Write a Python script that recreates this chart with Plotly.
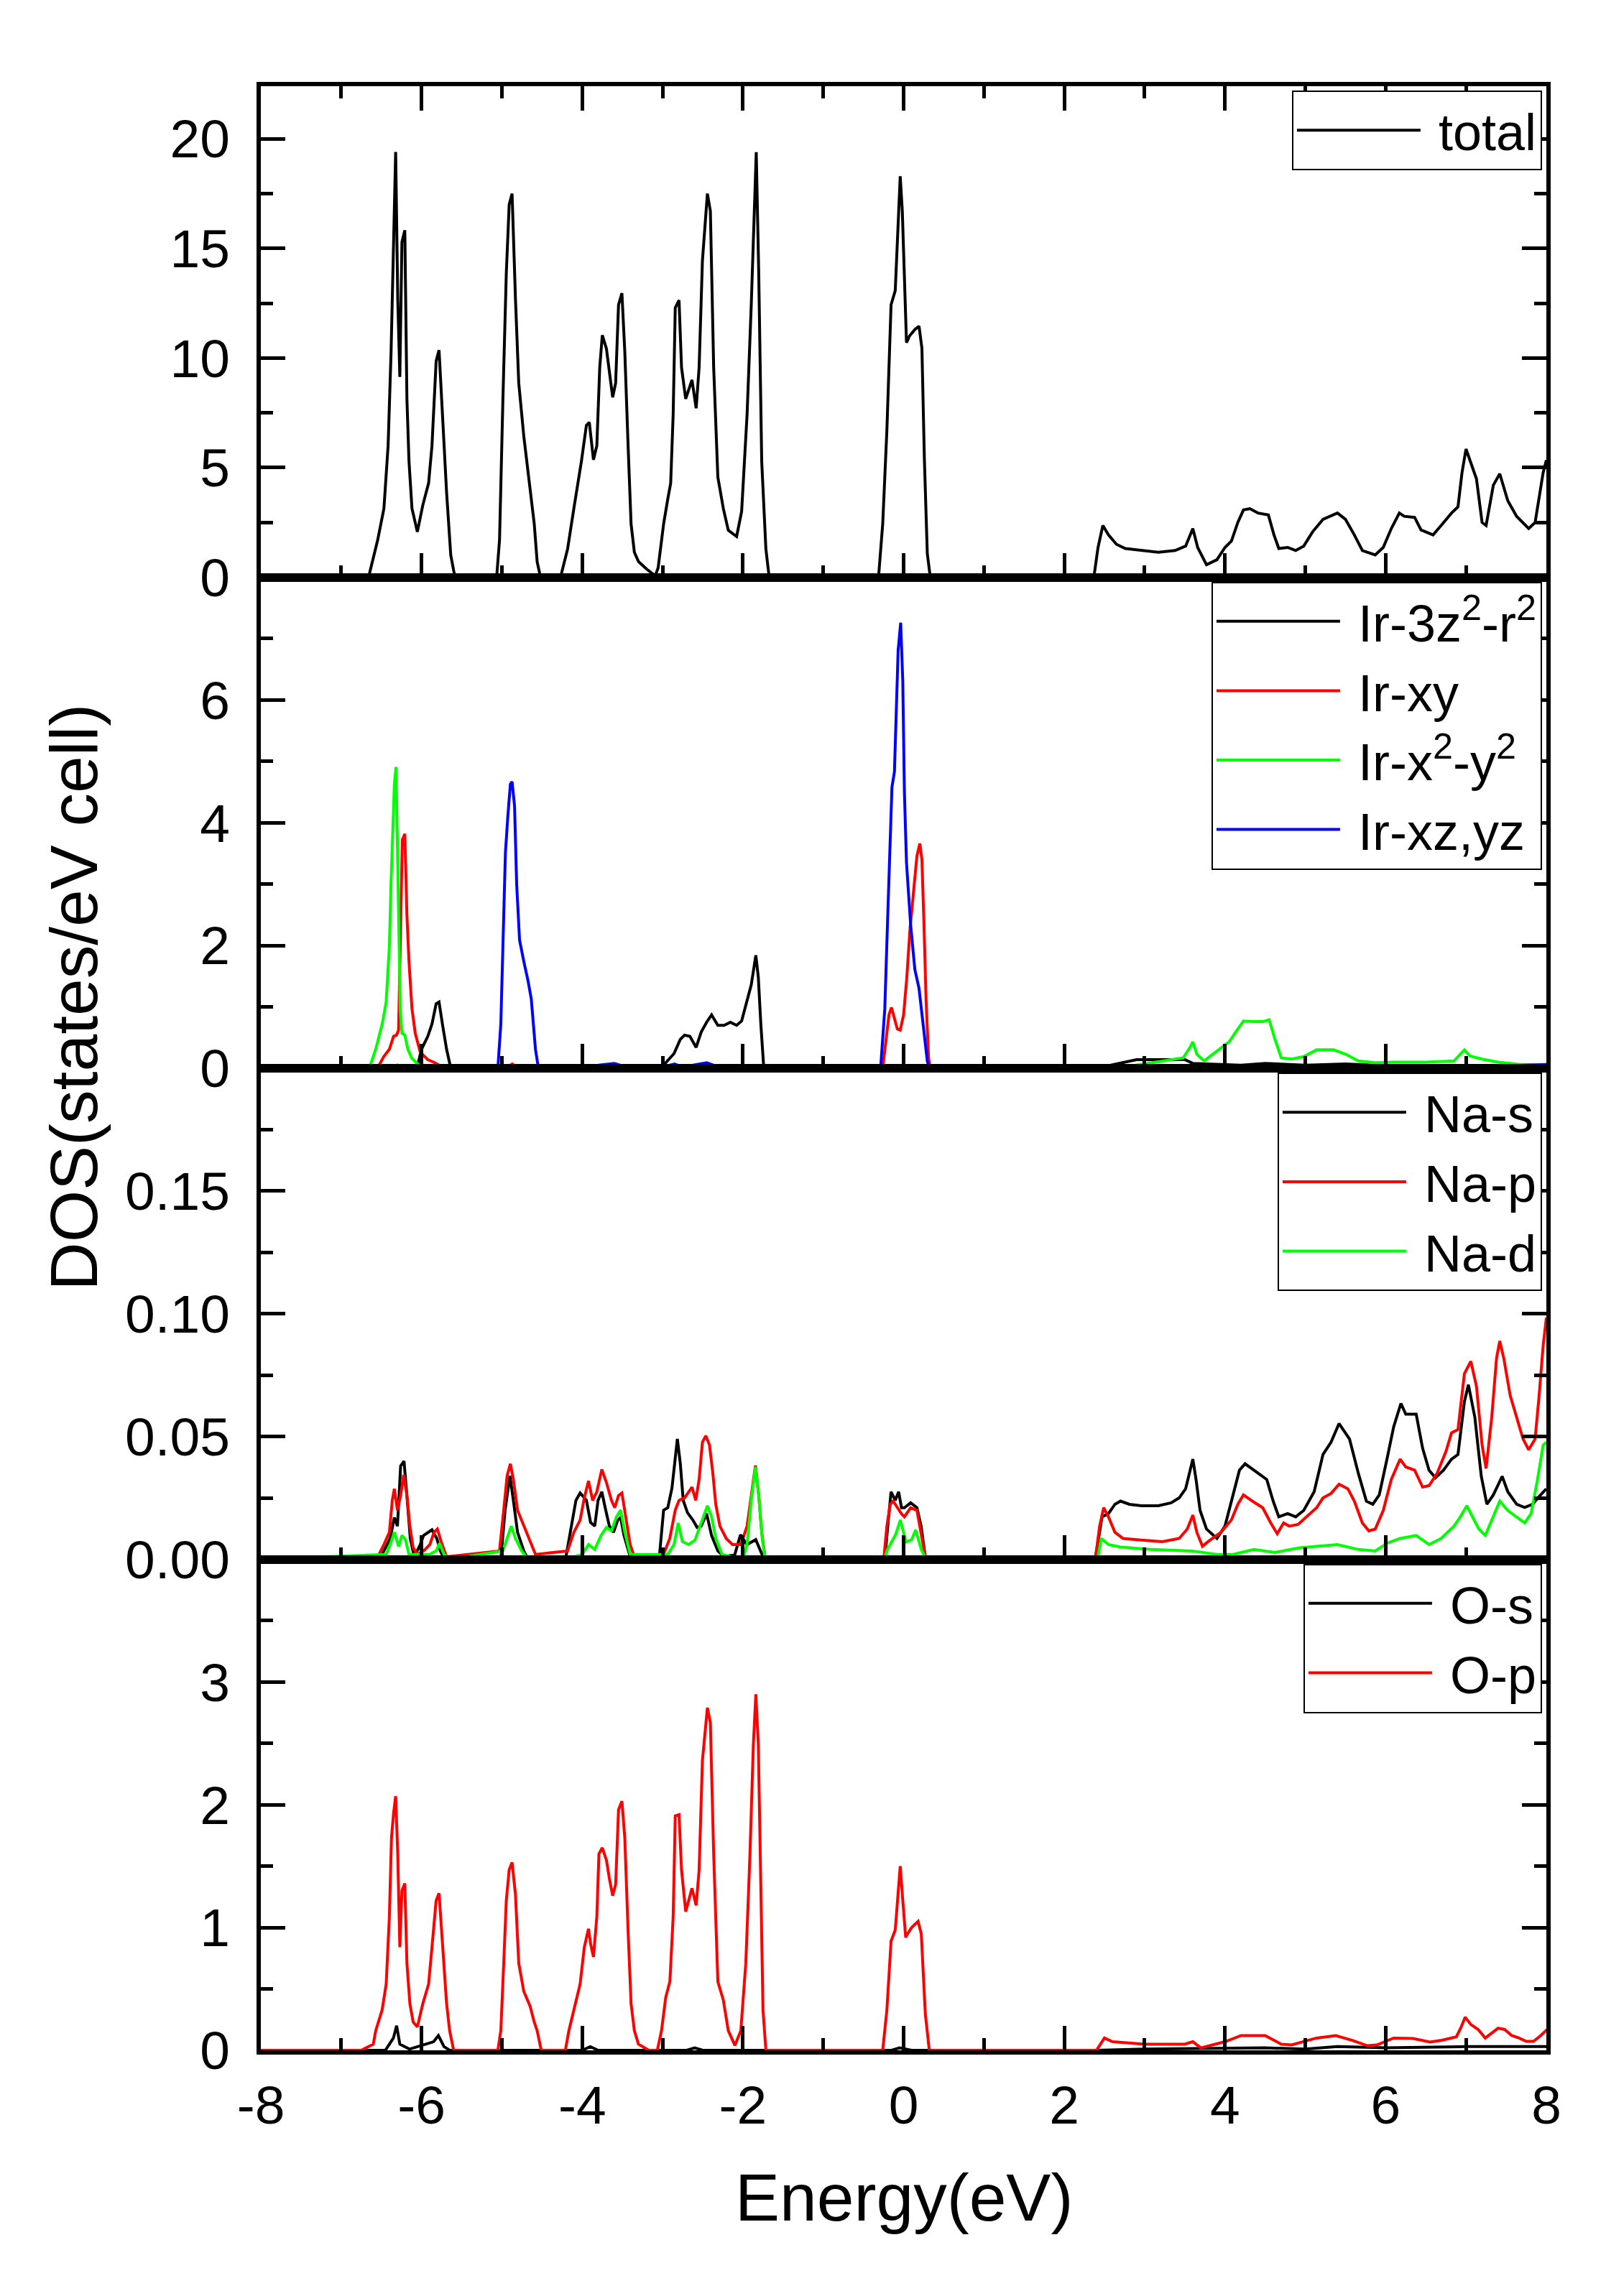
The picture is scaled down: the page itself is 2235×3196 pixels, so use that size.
import plotly.graph_objects as go
from plotly.subplots import make_subplots

# ----------------------------------------------------------------------
#  DATA  (energy in eV, DOS in states/eV cell)
# ----------------------------------------------------------------------
total = [(-8, 0), (-6.70, 0), (-6.65, 0.14), (-6.545, 1.71), (-6.468, 3.14), (-6.416, 6.0), (-6.379, 10.29),
         (-6.358, 13.86), (-6.322, 19.4), (-6.296, 12.71), (-6.27, 9.14), (-6.244, 15.29), (-6.208, 15.83),
         (-6.182, 8.14), (-6.156, 5.29), (-6.119, 3.14), (-6.052, 2.07), (-5.984, 3.29), (-5.912, 4.29),
         (-5.87, 6.0), (-5.818, 9.86), (-5.782, 10.36), (-5.74, 7.43), (-5.688, 3.86), (-5.636, 1.0), (-5.584, 0),
         (-5.065, 0), (-5.029, 1.71), (-4.987, 8.14), (-4.945, 13.86), (-4.909, 17.0), (-4.873, 17.5),
         (-4.831, 12.71), (-4.79, 8.86), (-4.727, 6.43), (-4.649, 4.0), (-4.597, 2.43), (-4.561, 0.71),
         (-4.519, 0), (-4.27, 0), (-4.182, 1.29), (-4.104, 3.14), (-4.01, 5.29), (-3.948, 6.93), (-3.912, 7.07),
         (-3.86, 5.36), (-3.818, 6.0), (-3.782, 9.57), (-3.75, 11.04), (-3.699, 10.43), (-3.662, 9.29),
         (-3.621, 8.21), (-3.584, 8.86), (-3.548, 12.43), (-3.506, 12.96), (-3.47, 10.29), (-3.429, 6.0),
         (-3.392, 2.43), (-3.351, 1.14), (-3.299, 0.71), (-3.195, 0.36), (-3.091, 0.07), (-3.055, 0.43),
         (-2.987, 2.43), (-2.935, 3.57), (-2.899, 4.29), (-2.868, 7.43), (-2.842, 12.29), (-2.795, 12.64),
         (-2.764, 9.57), (-2.712, 8.14), (-2.634, 9.0), (-2.582, 7.71), (-2.545, 9.57), (-2.504, 14.43),
         (-2.442, 17.5), (-2.405, 16.71), (-2.364, 9.57), (-2.312, 4.57), (-2.244, 3.14), (-2.182, 2.14),
         (-2.078, 1.86), (-2.016, 3.0), (-1.948, 7.43), (-1.896, 12.43), (-1.86, 16.71), (-1.834, 19.39),
         (-1.803, 13.86), (-1.766, 5.29), (-1.714, 1.29), (-1.673, 0),
         (-0.312, 0), (-0.26, 2.43), (-0.208, 6.71), (-0.182, 9.57), (-0.156, 12.43), (-0.104, 13.07),
         (-0.078, 15.29), (-0.042, 18.29), (-0.016, 16.7), (0.01, 13.9), (0.036, 10.7), (0.073, 11.0),
         (0.14, 11.3), (0.192, 11.45), (0.228, 10.45), (0.259, 5.34), (0.295, 1.08), (0.332, 0),
         (2.368, 0), (2.42, 1.36), (2.48, 2.36), (2.55, 1.93), (2.65, 1.5), (2.76, 1.31), (2.96, 1.22),
         (3.17, 1.14), (3.38, 1.22), (3.51, 1.42), (3.6, 2.22), (3.66, 1.36), (3.77, 0.57), (3.9, 0.8),
         (4.0, 1.36), (4.08, 1.65), (4.16, 2.5), (4.23, 3.07), (4.31, 3.13), (4.41, 2.93), (4.54, 2.84),
         (4.61, 1.93), (4.67, 1.31), (4.78, 1.36), (4.88, 1.22), (4.98, 1.42), (5.09, 2.07), (5.22, 2.64),
         (5.4, 2.93), (5.5, 2.64), (5.61, 1.93), (5.71, 1.22), (5.87, 1.02), (5.97, 1.36), (6.07, 2.22),
         (6.17, 2.93), (6.23, 2.78), (6.36, 2.73), (6.44, 2.16), (6.59, 1.93), (6.69, 2.36), (6.82, 2.93),
         (6.9, 3.21), (6.95, 4.77), (7.0, 5.85), (7.13, 4.49), (7.2, 2.5), (7.25, 2.36), (7.34, 4.2),
         (7.42, 4.72), (7.52, 3.49), (7.63, 2.78), (7.78, 2.22), (7.86, 2.5), (7.96, 4.77), (8.0, 5.34)]

ir_z2 = [(-8, 0), (-6.45, 0), (-6.35, 0.03), (-6.3, 0.05), (-6.25, 0.02), (-6.1, 0.0), (-6.04, 0.09),
         (-6.0, 0.31), (-5.922, 0.52), (-5.87, 0.72), (-5.818, 1.05), (-5.782, 1.08), (-5.74, 0.72),
         (-5.688, 0.31), (-5.636, 0.0), (-4.95, 0), (-4.9, 0.02), (-4.8, 0), (-3.05, 0), (-3.01, 0.04),
         (-2.96, 0.09), (-2.857, 0.24), (-2.78, 0.47), (-2.727, 0.54), (-2.66, 0.52), (-2.582, 0.34),
         (-2.519, 0.59), (-2.452, 0.75), (-2.39, 0.87), (-2.312, 0.7), (-2.234, 0.7), (-2.156, 0.75),
         (-2.078, 0.7), (-2.016, 0.77), (-1.948, 1.13), (-1.896, 1.36), (-1.839, 1.84), (-1.808, 1.48),
         (-1.777, 0.72), (-1.74, 0), (-0.2, 0), (-0.1, 0.03), (0.1, 0.03), (0.3, 0), (2.4, 0), (2.7, 0.08),
         (2.9, 0.14), (3.5, 0.14), (3.6, 0.08), (4.2, 0.05), (4.5, 0.08), (5.0, 0.05), (5.5, 0.07),
         (6.0, 0.04), (8.0, 0.02)]

ir_xy = [(-8, 0), (-6.55, 0), (-6.47, 0.19), (-6.4, 0.31), (-6.348, 0.52), (-6.312, 0.54), (-6.286, 0.62),
         (-6.26, 2.5), (-6.239, 3.72), (-6.208, 3.82), (-6.182, 2.5), (-6.156, 1.74), (-6.119, 0.97),
         (-6.078, 0.57), (-6.016, 0.26), (-5.922, 0.14), (-5.85, 0.1), (-5.75, 0.03), (-5.65, 0), (-4.95, 0),
         (-4.87, 0.07), (-4.8, 0), (-0.26, 0), (-0.218, 0.47), (-0.182, 0.87), (-0.151, 0.99), (-0.114, 0.82),
         (-0.078, 0.64), (-0.042, 0.62), (0.0, 0.87), (0.04, 1.48), (0.078, 2.24), (0.114, 2.74),
         (0.166, 3.46), (0.202, 3.66), (0.228, 3.4), (0.254, 2.33), (0.28, 1.1), (0.311, 0.17), (0.33, 0),
         (7.5, 0), (8, 0.03)]

ir_x2y2 = [(-8, 0), (-6.65, 0), (-6.57, 0.31), (-6.49, 0.72), (-6.44, 1.08), (-6.4, 1.99), (-6.38, 3.0),
           (-6.358, 4.02), (-6.338, 4.63), (-6.317, 4.91), (-6.3, 3.51), (-6.286, 1.99), (-6.265, 0.97),
           (-6.244, 0.57), (-6.208, 0.54), (-6.17, 0.31), (-6.12, 0.16), (-6.03, 0.05), (-5.9, 0.02),
           (-5.1, 0.02), (-4.9, 0.05), (-4.7, 0.02), (-3.7, 0.02), (-3.5, 0.04), (-3.3, 0.01), (-2.8, 0.02),
           (-2.55, 0.05), (-2.4, 0.02), (-0.2, 0.01), (0, 0.04), (0.2, 0.01), (2.65, 0), (3.07, 0.09),
           (3.48, 0.17), (3.56, 0.33), (3.6, 0.43), (3.65, 0.23), (3.74, 0.12), (3.9, 0.28), (4.05, 0.43),
           (4.16, 0.64), (4.23, 0.77), (4.36, 0.76), (4.47, 0.76), (4.55, 0.79), (4.62, 0.48), (4.7, 0.17),
           (4.83, 0.15), (4.98, 0.19), (5.14, 0.3), (5.35, 0.3), (5.5, 0.23), (5.66, 0.12), (5.87, 0.09),
           (6.1, 0.1), (6.5, 0.1), (6.85, 0.12), (6.98, 0.3), (7.05, 0.2), (7.2, 0.15), (7.4, 0.1),
           (7.7, 0.06), (8, 0.05)]

ir_xzyz = [(-8, 0), (-6.4, 0), (-6.32, 0.04), (-6.25, 0.0), (-6.1, 0.04), (-6.0, 0), (-5.05, 0),
           (-5.013, 0.72), (-4.987, 1.99), (-4.956, 3.51), (-4.925, 4.12), (-4.894, 4.63), (-4.873, 4.67),
           (-4.842, 4.27), (-4.816, 3.0), (-4.78, 2.09), (-4.727, 1.74), (-4.675, 1.43), (-4.634, 1.13),
           (-4.608, 0.72), (-4.582, 0.31), (-4.545, 0), (-4.2, 0.02), (-3.8, 0.05), (-3.6, 0.08),
           (-3.45, 0.02), (-3.0, 0.02), (-2.85, 0.07), (-2.75, 0.02), (-2.6, 0.06), (-2.45, 0.09),
           (-2.3, 0.02), (-1.8, 0.0), (-0.286, 0), (-0.234, 0.97), (-0.197, 2.5), (-0.166, 3.77),
           (-0.145, 4.58), (-0.114, 4.83), (-0.094, 5.8), (-0.068, 6.81), (-0.036, 7.26), (-0.01, 6.3),
           (0.01, 4.5), (0.036, 3.35), (0.088, 2.33), (0.14, 1.61), (0.192, 1.3), (0.244, 0.69),
           (0.295, 0.12), (0.32, 0), (7.0, 0.02), (8, 0.06)]

na_s = [(-8, 0), (-6.55, 0), (-6.49, 0.002), (-6.39, 0.0085), (-6.338, 0.017), (-6.3, 0.0135), (-6.26, 0.038),
        (-6.218, 0.040), (-6.182, 0.026), (-6.14, 0.0085), (-6.09, 0.001), (-6.016, 0.006), (-5.974, 0.0097),
        (-5.87, 0.012), (-5.81, 0.0085), (-5.766, 0.0034), (-5.714, 0), (-5.013, 0), (-4.96, 0.02),
        (-4.9, 0.034), (-4.857, 0.024), (-4.805, 0.011), (-4.727, 0.0034), (-4.675, 0), (-4.208, 0),
        (-4.13, 0.0135), (-4.078, 0.024), (-4.026, 0.027), (-3.948, 0.024), (-3.896, 0.015), (-3.844, 0.0135),
        (-3.803, 0.024), (-3.756, 0.0275), (-3.714, 0.021), (-3.662, 0.0135), (-3.61, 0.011), (-3.558, 0.016),
        (-3.522, 0.017), (-3.48, 0.0097), (-3.403, 0.001), (-3.04, 0.001), (-2.987, 0.02), (-2.935, 0.021),
        (-2.883, 0.029), (-2.847, 0.041), (-2.816, 0.049), (-2.779, 0.039), (-2.743, 0.024), (-2.69, 0.019),
        (-2.623, 0.016), (-2.571, 0.013), (-2.519, 0.0135), (-2.452, 0.0186), (-2.39, 0.0097),
        (-2.312, 0.0034), (-2.234, 0.001), (-2.1, 0.002), (-2.03, 0.01), (-1.95, 0.006), (-1.84, 0.008),
        (-1.75, 0.001), (-0.234, 0), (-0.197, 0.0135), (-0.156, 0.0275), (-0.104, 0.024), (-0.062, 0.0275),
        (-0.026, 0.021), (0.01, 0.021), (0.088, 0.023), (0.166, 0.021), (0.218, 0.0135), (0.27, 0.001),
        (2.39, 0.001), (2.47, 0.0173), (2.55, 0.0186), (2.63, 0.0224), (2.7, 0.0237), (2.81, 0.0224),
        (2.96, 0.0218), (3.17, 0.0218), (3.33, 0.023), (3.43, 0.025), (3.51, 0.0287), (3.56, 0.035),
        (3.6, 0.0408), (3.64, 0.0325), (3.69, 0.0199), (3.77, 0.0123), (3.9, 0.0085), (4.0, 0.0135),
        (4.1, 0.0262), (4.18, 0.0363), (4.25, 0.0389), (4.36, 0.0363), (4.52, 0.0325), (4.6, 0.0237),
        (4.67, 0.0173), (4.78, 0.0186), (4.88, 0.0173), (4.98, 0.0199), (5.11, 0.0275), (5.22, 0.0427),
        (5.32, 0.0477), (5.42, 0.0553), (5.55, 0.049), (5.66, 0.035), (5.76, 0.0237), (5.84, 0.0224),
        (5.92, 0.0262), (6.02, 0.0414), (6.1, 0.054), (6.19, 0.0635), (6.25, 0.0591), (6.38, 0.0591),
        (6.46, 0.0452), (6.54, 0.0363), (6.62, 0.0332), (6.72, 0.0363), (6.82, 0.0408), (6.9, 0.0427),
        (6.98, 0.0642), (7.03, 0.0711), (7.11, 0.0578), (7.19, 0.0338), (7.26, 0.0224), (7.34, 0.0262),
        (7.45, 0.0338), (7.52, 0.0275), (7.63, 0.0224), (7.73, 0.0211), (7.83, 0.0224), (7.91, 0.0256),
        (8.0, 0.0287)]

na_p = [(-8, 0), (-6.545, 0.001), (-6.468, 0.006), (-6.4, 0.011), (-6.364, 0.024), (-6.338, 0.0287),
        (-6.3, 0.02), (-6.26, 0.026), (-6.223, 0.0344), (-6.182, 0.026), (-6.145, 0.0135), (-6.104, 0.0047),
        (-6.052, 0.002), (-5.974, 0.0034), (-5.896, 0.006), (-5.844, 0.011), (-5.803, 0.0123), (-5.756, 0.0072),
        (-5.688, 0.001), (-5.03, 0.0034), (-4.977, 0.02), (-4.935, 0.034), (-4.894, 0.0389), (-4.857, 0.0325),
        (-4.805, 0.02), (-4.727, 0.0135), (-4.649, 0.0078), (-4.582, 0.002), (-4.182, 0.0034), (-4.104, 0.011),
        (-4.026, 0.016), (-3.974, 0.025), (-3.922, 0.0319), (-3.87, 0.024), (-3.818, 0.0275), (-3.756, 0.0366),
        (-3.699, 0.0313), (-3.636, 0.024), (-3.595, 0.021), (-3.548, 0.026), (-3.506, 0.027), (-3.455, 0.0173),
        (-3.403, 0.006), (-3.351, 0.001), (-2.987, 0.002), (-2.91, 0.0085), (-2.842, 0.02), (-2.795, 0.024),
        (-2.727, 0.025), (-2.634, 0.0294), (-2.587, 0.024), (-2.545, 0.0325), (-2.504, 0.0477),
        (-2.462, 0.0503), (-2.416, 0.0465), (-2.374, 0.035), (-2.338, 0.0224), (-2.286, 0.0135),
        (-2.208, 0.0085), (-2.13, 0.006), (-2.026, 0.006), (-1.948, 0.0135), (-1.88, 0.03), (-1.844, 0.0382),
        (-1.803, 0.026), (-1.766, 0.011), (-1.725, 0.001), (-0.244, 0.001), (-0.208, 0.0135), (-0.166, 0.0224),
        (-0.13, 0.0237), (-0.078, 0.021), (-0.026, 0.0185), (0.01, 0.0173), (0.088, 0.021), (0.166, 0.0199),
        (0.218, 0.011), (0.27, 0.001), (2.39, 0.001), (2.44, 0.0135), (2.49, 0.021), (2.55, 0.0173),
        (2.63, 0.011), (2.73, 0.0085), (2.96, 0.0078), (3.22, 0.0072), (3.43, 0.0085), (3.53, 0.0123),
        (3.6, 0.018), (3.65, 0.011), (3.72, 0.0053), (3.79, 0.0072), (3.95, 0.011), (4.08, 0.016),
        (4.16, 0.0224), (4.23, 0.0262), (4.34, 0.0237), (4.47, 0.021), (4.57, 0.0148), (4.65, 0.0104),
        (4.73, 0.0148), (4.8, 0.0135), (4.91, 0.0142), (5.01, 0.0173), (5.14, 0.021), (5.22, 0.025),
        (5.32, 0.0268), (5.42, 0.0306), (5.53, 0.0287), (5.61, 0.0237), (5.71, 0.0148), (5.79, 0.0116),
        (5.87, 0.0123), (5.97, 0.0199), (6.07, 0.0325), (6.18, 0.0408), (6.25, 0.0376), (6.36, 0.0363),
        (6.46, 0.0294), (6.54, 0.03), (6.64, 0.035), (6.75, 0.0439), (6.82, 0.0515), (6.9, 0.0528),
        (6.98, 0.0756), (7.06, 0.0806), (7.13, 0.0705), (7.2, 0.0465), (7.25, 0.037), (7.32, 0.0578),
        (7.38, 0.0819), (7.42, 0.0889), (7.47, 0.0819), (7.55, 0.0667), (7.63, 0.0578), (7.71, 0.049),
        (7.78, 0.0446), (7.86, 0.049), (7.91, 0.0667), (7.96, 0.087), (8.0, 0.0984)]

na_d = [(-8, 0), (-6.44, 0.002), (-6.39, 0.006), (-6.338, 0.011), (-6.286, 0.0053), (-6.244, 0.0097),
        (-6.2, 0.008), (-6.156, 0.002), (-5.9, 0.002), (-5.818, 0.0034), (-5.776, 0.0065), (-5.72, 0.002),
        (-5.65, 0), (-4.987, 0.0034), (-4.935, 0.0085), (-4.883, 0.0135), (-4.831, 0.0085), (-4.753, 0.0034),
        (-4.675, 0), (-4.104, 0.001), (-4.0, 0.002), (-3.922, 0.006), (-3.844, 0.004), (-3.766, 0.0097),
        (-3.699, 0.013), (-3.636, 0.0116), (-3.574, 0.0173), (-3.522, 0.02), (-3.47, 0.011), (-3.403, 0.002),
        (-2.935, 0.002), (-2.857, 0.006), (-2.805, 0.0148), (-2.753, 0.0072), (-2.675, 0.006), (-2.597, 0.0078),
        (-2.519, 0.0148), (-2.442, 0.0218), (-2.39, 0.0173), (-2.338, 0.0085), (-2.26, 0.002), (-2.0, 0.0),
        (-1.948, 0.006), (-1.896, 0.024), (-1.844, 0.0376), (-1.803, 0.026), (-1.756, 0.0072), (-1.72, 0),
        (-0.24, 0), (-0.2, 0.004), (-0.1, 0.01), (-0.04, 0.016), (0.03, 0.007), (0.1, 0.008), (0.15, 0.012),
        (0.22, 0.004), (0.28, 0), (2.42, 0.001), (2.46, 0.0085), (2.55, 0.006), (2.7, 0.005), (3.07, 0.004),
        (3.59, 0.0034), (3.9, 0.002), (4.1, 0.002), (4.36, 0.004), (4.62, 0.0028), (4.93, 0.0047),
        (5.4, 0.006), (5.66, 0.004), (5.87, 0.0034), (6.02, 0.0066), (6.18, 0.0085), (6.38, 0.0097),
        (6.54, 0.006), (6.69, 0.0085), (6.85, 0.0135), (6.93, 0.0173), (7.01, 0.0218), (7.08, 0.0173),
        (7.16, 0.0123), (7.24, 0.0097), (7.32, 0.016), (7.42, 0.0237), (7.52, 0.0199), (7.63, 0.0173),
        (7.73, 0.0148), (7.81, 0.0186), (7.89, 0.0325), (7.96, 0.0465), (8.0, 0.0477)]

o_s = [(-8, 0), (-6.45, 0), (-6.35, 0.1), (-6.31, 0.2), (-6.27, 0.05), (-6.15, 0.01), (-5.85, 0.07),
       (-5.79, 0.12), (-5.72, 0.03), (-5.65, 0), (-4.0, 0), (-3.9, 0.03), (-3.8, 0), (-2.7, 0), (-2.6, 0.02),
       (-2.5, 0), (-0.15, 0), (-0.05, 0.02), (0.1, 0), (2.4, 0), (3.0, 0.01), (4.5, 0.02), (5.0, 0.01),
       (5.4, 0.03), (6.0, 0.02), (7.0, 0.03), (8.0, 0.03)]

o_p = [(-8, 0), (-6.75, 0), (-6.6, 0.05), (-6.57, 0.16), (-6.49, 0.33), (-6.44, 0.54), (-6.4, 1.09),
       (-6.374, 1.73), (-6.348, 1.93), (-6.322, 2.07), (-6.296, 1.6), (-6.27, 0.84), (-6.244, 1.3),
       (-6.208, 1.36), (-6.182, 0.71), (-6.145, 0.38), (-6.104, 0.23), (-6.052, 0.19), (-5.984, 0.38),
       (-5.912, 0.54), (-5.87, 0.84), (-5.818, 1.22), (-5.782, 1.28), (-5.74, 0.89), (-5.688, 0.38),
       (-5.65, 0.16), (-5.6, 0), (-5.05, 0), (-5.013, 0.16), (-4.977, 0.71), (-4.945, 1.22), (-4.909, 1.47),
       (-4.873, 1.53), (-4.831, 1.27), (-4.79, 0.71), (-4.727, 0.48), (-4.649, 0.36), (-4.597, 0.23),
       (-4.561, 0.16), (-4.51, 0), (-4.21, 0), (-4.166, 0.16), (-4.104, 0.33), (-4.026, 0.54), (-3.974, 0.84),
       (-3.922, 0.99), (-3.896, 0.87), (-3.86, 0.76), (-3.818, 1.09), (-3.792, 1.6), (-3.75, 1.65),
       (-3.699, 1.55), (-3.662, 1.4), (-3.621, 1.26), (-3.584, 1.35), (-3.548, 1.96), (-3.506, 2.03),
       (-3.47, 1.73), (-3.429, 0.97), (-3.392, 0.38), (-3.351, 0.16), (-3.3, 0.05), (-3.17, 0),
       (-3.065, 0), (-3.013, 0.16), (-2.961, 0.43), (-2.909, 0.56), (-2.868, 1.09), (-2.842, 1.91),
       (-2.795, 1.92), (-2.764, 1.47), (-2.712, 1.13), (-2.634, 1.32), (-2.582, 1.18), (-2.545, 1.47),
       (-2.504, 2.36), (-2.442, 2.79), (-2.405, 2.67), (-2.364, 1.6), (-2.312, 0.56), (-2.244, 0.41),
       (-2.182, 0.16), (-2.1, 0.04), (-2.026, 0.16), (-1.964, 0.71), (-1.912, 1.6), (-1.87, 2.49),
       (-1.839, 2.9), (-1.808, 2.49), (-1.782, 1.35), (-1.75, 0.33), (-1.714, 0),
       (-0.26, 0), (-0.208, 0.33), (-0.182, 0.59), (-0.156, 0.89), (-0.104, 0.98), (-0.078, 1.22),
       (-0.042, 1.5), (-0.01, 1.22), (0.026, 0.92), (0.05, 0.95), (0.1, 1.0), (0.18, 1.05), (0.22, 0.95),
       (0.27, 0.3), (0.32, 0), (2.4, 0), (2.5, 0.1), (2.6, 0.07), (3.0, 0.05), (3.5, 0.05), (3.6, 0.07),
       (3.7, 0.02), (4.0, 0.07), (4.2, 0.12), (4.5, 0.12), (4.7, 0.05), (4.83, 0.044), (5.14, 0.1),
       (5.38, 0.12), (5.59, 0.08), (5.77, 0.038), (5.89, 0.044), (6.1, 0.1), (6.34, 0.096), (6.55, 0.067),
       (6.7, 0.082), (6.88, 0.11), (6.94, 0.19), (6.99, 0.27), (7.06, 0.21), (7.15, 0.17), (7.24, 0.1),
       (7.3, 0.13), (7.4, 0.18), (7.48, 0.17), (7.57, 0.12), (7.66, 0.1), (7.75, 0.073), (7.84, 0.073),
       (7.93, 0.12), (8.01, 0.17)]

energy_ticks = [-8, -6, -4, -2, 0, 2, 4, 6, 8]
energy_labels = ["-8", "-6", "-4", "-2", "0", "2", "4", "6", "8"]

total_ticks, total_labels = [0, 5, 10, 15, 20], ["0", "5", "10", "15", "20"]
ir_ticks, ir_labels = [0, 2, 4, 6], ["0", "2", "4", "6"]
na_ticks, na_labels = [0, 0.05, 0.10, 0.15], ["0.00", "0.05", "0.10", "0.15"]
o_ticks, o_labels = [0, 1, 2, 3], ["0", "1", "2", "3"]

# panel -> (curves, y range, major ticks, labels, minor step)
panels = [
    ([(total, "total", "#000000")], [0, 22.4], total_ticks, total_labels, 2.5),
    ([(ir_z2, "Ir-3z<sup>2</sup>-r<sup>2</sup>", "#000000"),
      (ir_xy, "Ir-xy", "#FF0000"),
      (ir_x2y2, "Ir-x<sup>2</sup>-y<sup>2</sup>", "#00FF00"),
      (ir_xzyz, "Ir-xz,yz", "#0000FF")], [0, 8], ir_ticks, ir_labels, 1),
    ([(na_s, "Na-s", "#000000"),
      (na_p, "Na-p", "#FF0000"),
      (na_d, "Na-d", "#00FF00")], [0, 0.2], na_ticks, na_labels, 0.025),
    ([(o_s, "O-s", "#000000"),
      (o_p, "O-p", "#FF0000")], [0, 4], o_ticks, o_labels, 0.5),
]

FONT = "Liberation Sans, Arial, sans-serif"
NBSP = "\u00a0"   # small gap between legend line and its text

# ----------------------------------------------------------------------
#  FIGURE
# ----------------------------------------------------------------------
fig = make_subplots(rows=4, cols=1, vertical_spacing=0)

legend_names = ["legend", "legend2", "legend3", "legend4"]
for row, (curves, yrange, yticks, ylabels, ystep) in enumerate(panels, start=1):
    for data, name, color in curves:
        fig.add_trace(go.Scatter(x=[p[0] for p in data], y=[p[1] for p in data],
                                 mode="lines", name=NBSP + name, showlegend=True,
                                 line=dict(color=color, width=4),
                                 legend=legend_names[row - 1]),
                      row=row, col=1)

    fig.update_xaxes(range=[-8, 8], showline=True, linewidth=6, linecolor="black",
                     mirror="ticks" if row == 1 else True,
                     ticks="inside", ticklen=34, tickwidth=5, tickcolor="black",
                     tickmode="array", tickvals=energy_ticks, ticktext=energy_labels,
                     showticklabels=(row == 4), ticklabelstandoff=6,
                     minor=dict(ticks="inside", ticklen=17, tickwidth=5, tickcolor="black",
                                dtick=1, tick0=-8),
                     showgrid=False, zeroline=False,
                     tickfont=dict(size=75, color="black"),
                     row=row, col=1)
    fig.update_yaxes(range=yrange, showline=True, linewidth=6, linecolor="black",
                     mirror="ticks", ticks="inside", ticklen=34, tickwidth=5, tickcolor="black",
                     tickmode="array", tickvals=yticks, ticktext=ylabels,
                     ticklabelstandoff=22,
                     minor=dict(ticks="inside", ticklen=17, tickwidth=5, tickcolor="black",
                                dtick=ystep, tick0=0),
                     showgrid=False, zeroline=False,
                     tickfont=dict(size=75, color="black"),
                     row=row, col=1)

legend_style = dict(x=0.9966, xanchor="right", yanchor="top",
                    bgcolor="white", bordercolor="black", borderwidth=2,
                    font=dict(size=72, color="black", family=FONT),
                    itemwidth=172, tracegroupgap=0)
fig.update_layout(
    width=2235, height=3196,
    margin=dict(l=355, r=91, t=112, b=350),
    paper_bgcolor="white", plot_bgcolor="white",
    font=dict(family=FONT, color="black"),
    showlegend=True,
    legend=dict(y=0.9978, **legend_style),
    legend2=dict(y=0.7478, **legend_style),
    legend3=dict(y=0.4978, **legend_style),
    legend4=dict(y=0.2478, **legend_style),
    annotations=[
        dict(text="DOS(states/eV cell)", textangle=-90, x=-0.1448, y=0.5364,
             xref="paper", yref="paper", xanchor="center", yanchor="middle",
             showarrow=False, font=dict(size=93, color="black")),
        dict(text="Energy(eV)", x=0.5, y=-0.075,
             xref="paper", yref="paper", xanchor="center", yanchor="middle",
             showarrow=False, font=dict(size=93, color="black")),
    ],
)

fig.write_html("out.html")
